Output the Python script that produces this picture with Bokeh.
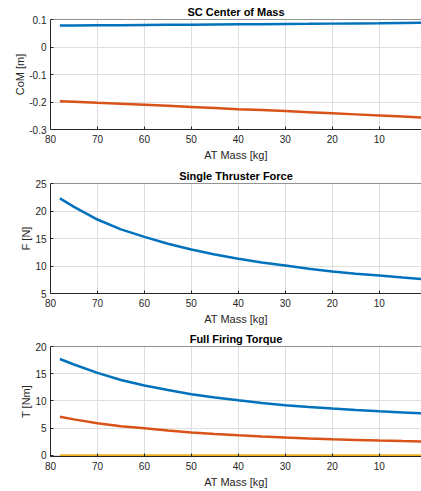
from bokeh.plotting import figure
from bokeh.layouts import column
from bokeh.models import Range1d, FixedTicker, Span
from bokeh.embed import file_html
from bokeh.resources import INLINE

# AT mass samples [kg]
mass = [78, 75, 70, 65, 60, 55, 50, 45, 40, 35, 30, 25, 20, 15, 10, 5, 0]

# SC Center of Mass [m]
com_a = [0.078, 0.0783, 0.0788, 0.0794, 0.0800, 0.0806, 0.0812, 0.0818, 0.0824, 0.0830,
         0.0837, 0.0843, 0.0850, 0.0857, 0.0864, 0.0872, 0.0880]
com_b = [-0.197, -0.199, -0.203, -0.2065, -0.210, -0.214, -0.218, -0.222, -0.226, -0.2295,
         -0.233, -0.237, -0.241, -0.245, -0.249, -0.253, -0.257]

# Single Thruster Force [N]
force = [22.3, 20.75, 18.45, 16.65, 15.3, 14.05, 13.0, 12.1, 11.3, 10.65, 10.1, 9.52, 9.0,
         8.6, 8.27, 7.9, 7.55]

# Full Firing Torque [Nm]
torque_a = [17.7, 16.7, 15.15, 13.85, 12.85, 12.0, 11.25, 10.65, 10.12, 9.63, 9.2, 8.88,
            8.6, 8.35, 8.12, 7.9, 7.68]
torque_b = [7.1, 6.62, 5.9, 5.37, 4.97, 4.57, 4.22, 3.95, 3.7, 3.47, 3.27, 3.1, 2.97, 2.85,
            2.73, 2.63, 2.54]
torque_c = [0.0] * len(mass)

x_ticks = [80, 70, 60, 50, 40, 30, 20, 10]

BLUE = "#0072BD"
ORANGE = "#D95319"
YELLOW = "#EDB120"
AX = "#262626"
FONT = "Liberation Sans"


def make(title, ylabel, yr, yticks, ylabels, height, top, bottom):
    p = figure(width=421, height=height, output_backend="svg", toolbar_location=None,
               x_range=Range1d(80, 1.0), y_range=Range1d(*yr),
               min_border_left=50, min_border_right=0, min_border_top=top,
               min_border_bottom=bottom)
    p.title.text = title
    p.title.align = "center"
    p.title.text_font = FONT
    p.title.text_font_size = "11px"
    p.title.text_font_style = "bold"
    p.title.text_color = "#000000"
    p.title.standoff = 3
    p.outline_line_color = None
    p.background_fill_color = "white"
    p.border_fill_color = "white"

    for ax in (p.xaxis[0], p.yaxis[0]):
        ax.axis_line_color = AX
        ax.major_tick_line_color = AX
        ax.major_tick_in = 3
        ax.major_tick_out = 0
        ax.minor_tick_line_color = None
        ax.major_label_text_font = FONT
        ax.major_label_text_font_size = "10px"
        ax.major_label_text_color = AX
        ax.axis_label_text_font = FONT
        ax.axis_label_text_font_size = "11px"
        ax.axis_label_text_font_style = "normal"
        ax.axis_label_text_color = AX

    p.xaxis.ticker = FixedTicker(ticks=x_ticks)
    p.xaxis.major_label_overrides = {t: str(t) for t in x_ticks}
    p.xaxis.axis_label = "AT Mass [kg]"
    p.xaxis.axis_label_standoff = 3
    p.xaxis.major_label_standoff = 5

    p.yaxis.ticker = FixedTicker(ticks=yticks)
    p.yaxis.major_label_overrides = dict(zip(yticks, ylabels))
    p.yaxis.axis_label = ylabel
    p.yaxis.axis_label_standoff = 0
    p.yaxis.major_label_standoff = 4

    p.add_layout(Span(location=yr[1], dimension="width", line_color=AX, line_width=1))

    p.grid.grid_line_color = "#DEDEDE"
    p.grid.grid_line_width = 1
    return p


p1 = make("SC Center of Mass", "CoM [m]", (-0.3, 0.1), [-0.3, -0.2, -0.1, 0, 0.1],
          ["-0.3", "-0.2", "-0.1", "0", "0.1"], 163, 19, 34)
p1.line(mass, com_a, line_color=BLUE, line_width=2.5)
p1.line(mass, com_b, line_color=ORANGE, line_width=2.5)

p2 = make("Single Thruster Force", "F [N]", (5, 25), [5, 10, 15, 20, 25],
          ["5", "10", "15", "20", "25"], 164, 20, 34)
p2.line(mass, force, line_color=BLUE, line_width=2.5)

p3 = make("Full Firing Torque", "T [Nm]", (-0.2, 20), [0, 5, 10, 15, 20],
          ["0", "5", "10", "15", "20"], 164, 19, 35)
p3.line(mass, torque_a, line_color=BLUE, line_width=2.5)
p3.line(mass, torque_b, line_color=ORANGE, line_width=2.5)
p3.line(mass, torque_c, line_color=YELLOW, line_width=2.5)

layout = column(p1, p2, p3, spacing=0)
open("out.html", "w").write(file_html(layout, INLINE))
